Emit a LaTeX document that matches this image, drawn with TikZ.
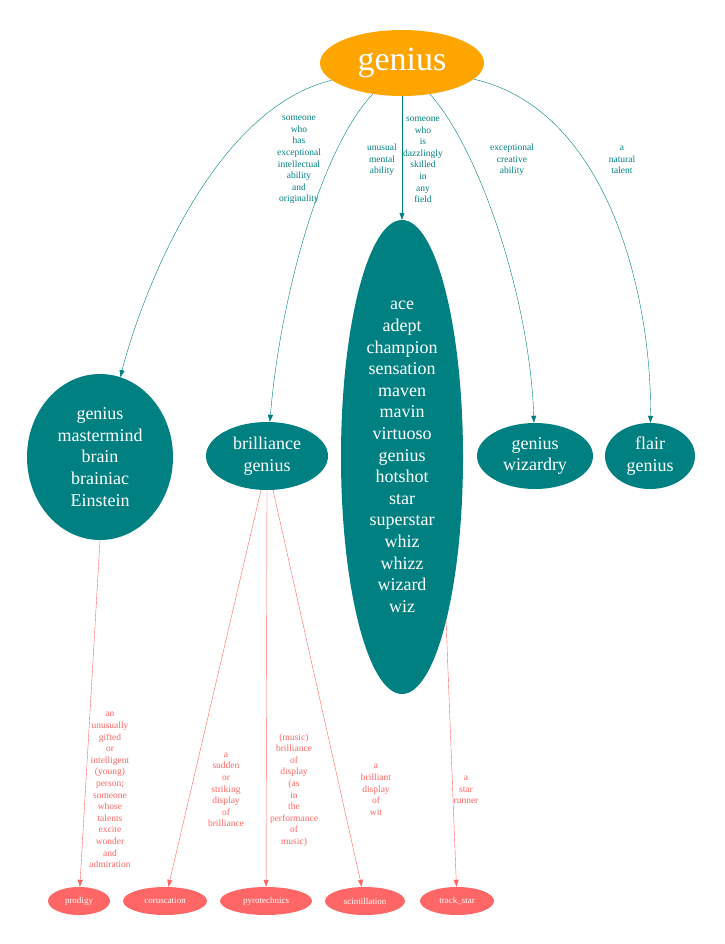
\documentclass[tikz,border=0pt]{standalone}
\usepackage{fontspec}
\setmainfont{Liberation Serif}
\usetikzlibrary{shapes.geometric,arrows.meta}
\definecolor{tl}{HTML}{008080}
\definecolor{sal}{HTML}{FF6666}
\definecolor{org}{HTML}{FFA500}
\tikzset{
 big/.style={ellipse,fill=tl,text=white,inner sep=0pt,align=center,font=\fontsize{18}{21.6}\selectfont},
 small/.style={ellipse,fill=sal,text=white,inner sep=0pt,font=\fontsize{9}{10}\selectfont},
 te/.style={draw=tl,-{Triangle[length=7pt,width=5pt]}},
 se/.style={draw=sal,-{Triangle[length=7pt,width=5pt]}},
 tlab/.style={text=tl,align=center,font=\fontsize{9.5}{11.6}\selectfont},
 slab/.style={text=sal,align=center,font=\fontsize{9.5}{11.6}\selectfont}
}
\begin{document}
\begin{tikzpicture}[x=1pt,y=-1pt]
\useasboundingbox[fill=white] (0,0) rectangle (724,944);
\node[ellipse,fill=org,text=white,minimum width=164pt,minimum height=66pt,inner sep=0pt,font=\fontsize{34}{40}\selectfont] (g) at (402,63) {genius};
\node[big,minimum width=146pt,minimum height=166pt] (n1) at (100,457) {genius\\mastermind\\brain\\brainiac\\Einstein};
\node[big,minimum width=122pt,minimum height=68pt] (n2) at (267,456) {brilliance\\genius};
\node[big,minimum width=122pt,minimum height=474pt] (n3) at (402,457) {ace\\adept\\champion\\sensation\\maven\\mavin\\virtuoso\\genius\\hotshot\\star\\superstar\\whiz\\whizz\\wizard\\wiz};
\node[big,minimum width=116pt,minimum height=66pt] (n4) at (535,456) {genius\\wizardry};
\node[big,minimum width=90pt,minimum height=66pt] (n5) at (650,456) {flair\\genius};
\node[small,minimum width=62pt,minimum height=28pt] (b1) at (79,901) {prodigy};
\node[small,minimum width=84pt,minimum height=28pt] (b2) at (165,901) {coruscation};
\node[small,minimum width=92pt,minimum height=28pt] (b3) at (266,901) {pyrotechnics};
\node[small,minimum width=80pt,minimum height=28pt] (b4) at (365,901) {scintillation};
\node[small,minimum width=74pt,minimum height=28pt] (b5) at (457,901) {track\_star};
\draw[te] (g) .. controls (210,110) and (140,300) .. (n1);
\draw[te] (g) .. controls (320,150) and (280,300) .. (n2);
\draw[te] (g) -- (n3);
\draw[te] (g) .. controls (480,150) and (530,300) .. (n4);
\draw[te] (g) .. controls (610,110) and (652,300) .. (n5);
\draw[se] (n1.south) -- (b1);
\draw[se] (n2.-100) -- (b2);
\draw[se] (n2.south) -- (b3);
\draw[se] (n2.-80) -- (b4);
\draw[se] (n3.-75) -- (b5);
\node[tlab] (l1) at (299,160) {someone\\who\\has\\exceptional\\intellectual\\ability\\and\\originality};
\node[tlab] (l2) at (382,160) {unusual\\mental\\ability};
\node[tlab] (l3) at (423,160) {someone\\who\\is\\dazzlingly\\skilled\\in\\any\\field};
\node[tlab] (l4) at (512,160) {exceptional\\creative\\ability};
\node[tlab] (l5) at (622,160) {a\\natural\\talent};
\node[slab] (m1) at (110,790) {an\\unusually\\gifted\\or\\intelligent\\(young)\\person;\\someone\\whose\\talents\\excite\\wonder\\and\\admiration};
\node[slab] (m2) at (226,790) {a\\sudden\\or\\striking\\display\\of\\brilliance};
\node[slab] (m3) at (294,790) {(music)\\brilliance\\of\\display\\(as\\in\\the\\performance\\of\\music)};
\node[slab] (m4) at (376,790) {a\\brilliant\\display\\of\\wit};
\node[slab] (m5) at (466,790) {a\\star\\runner};
\end{tikzpicture}
\end{document}
